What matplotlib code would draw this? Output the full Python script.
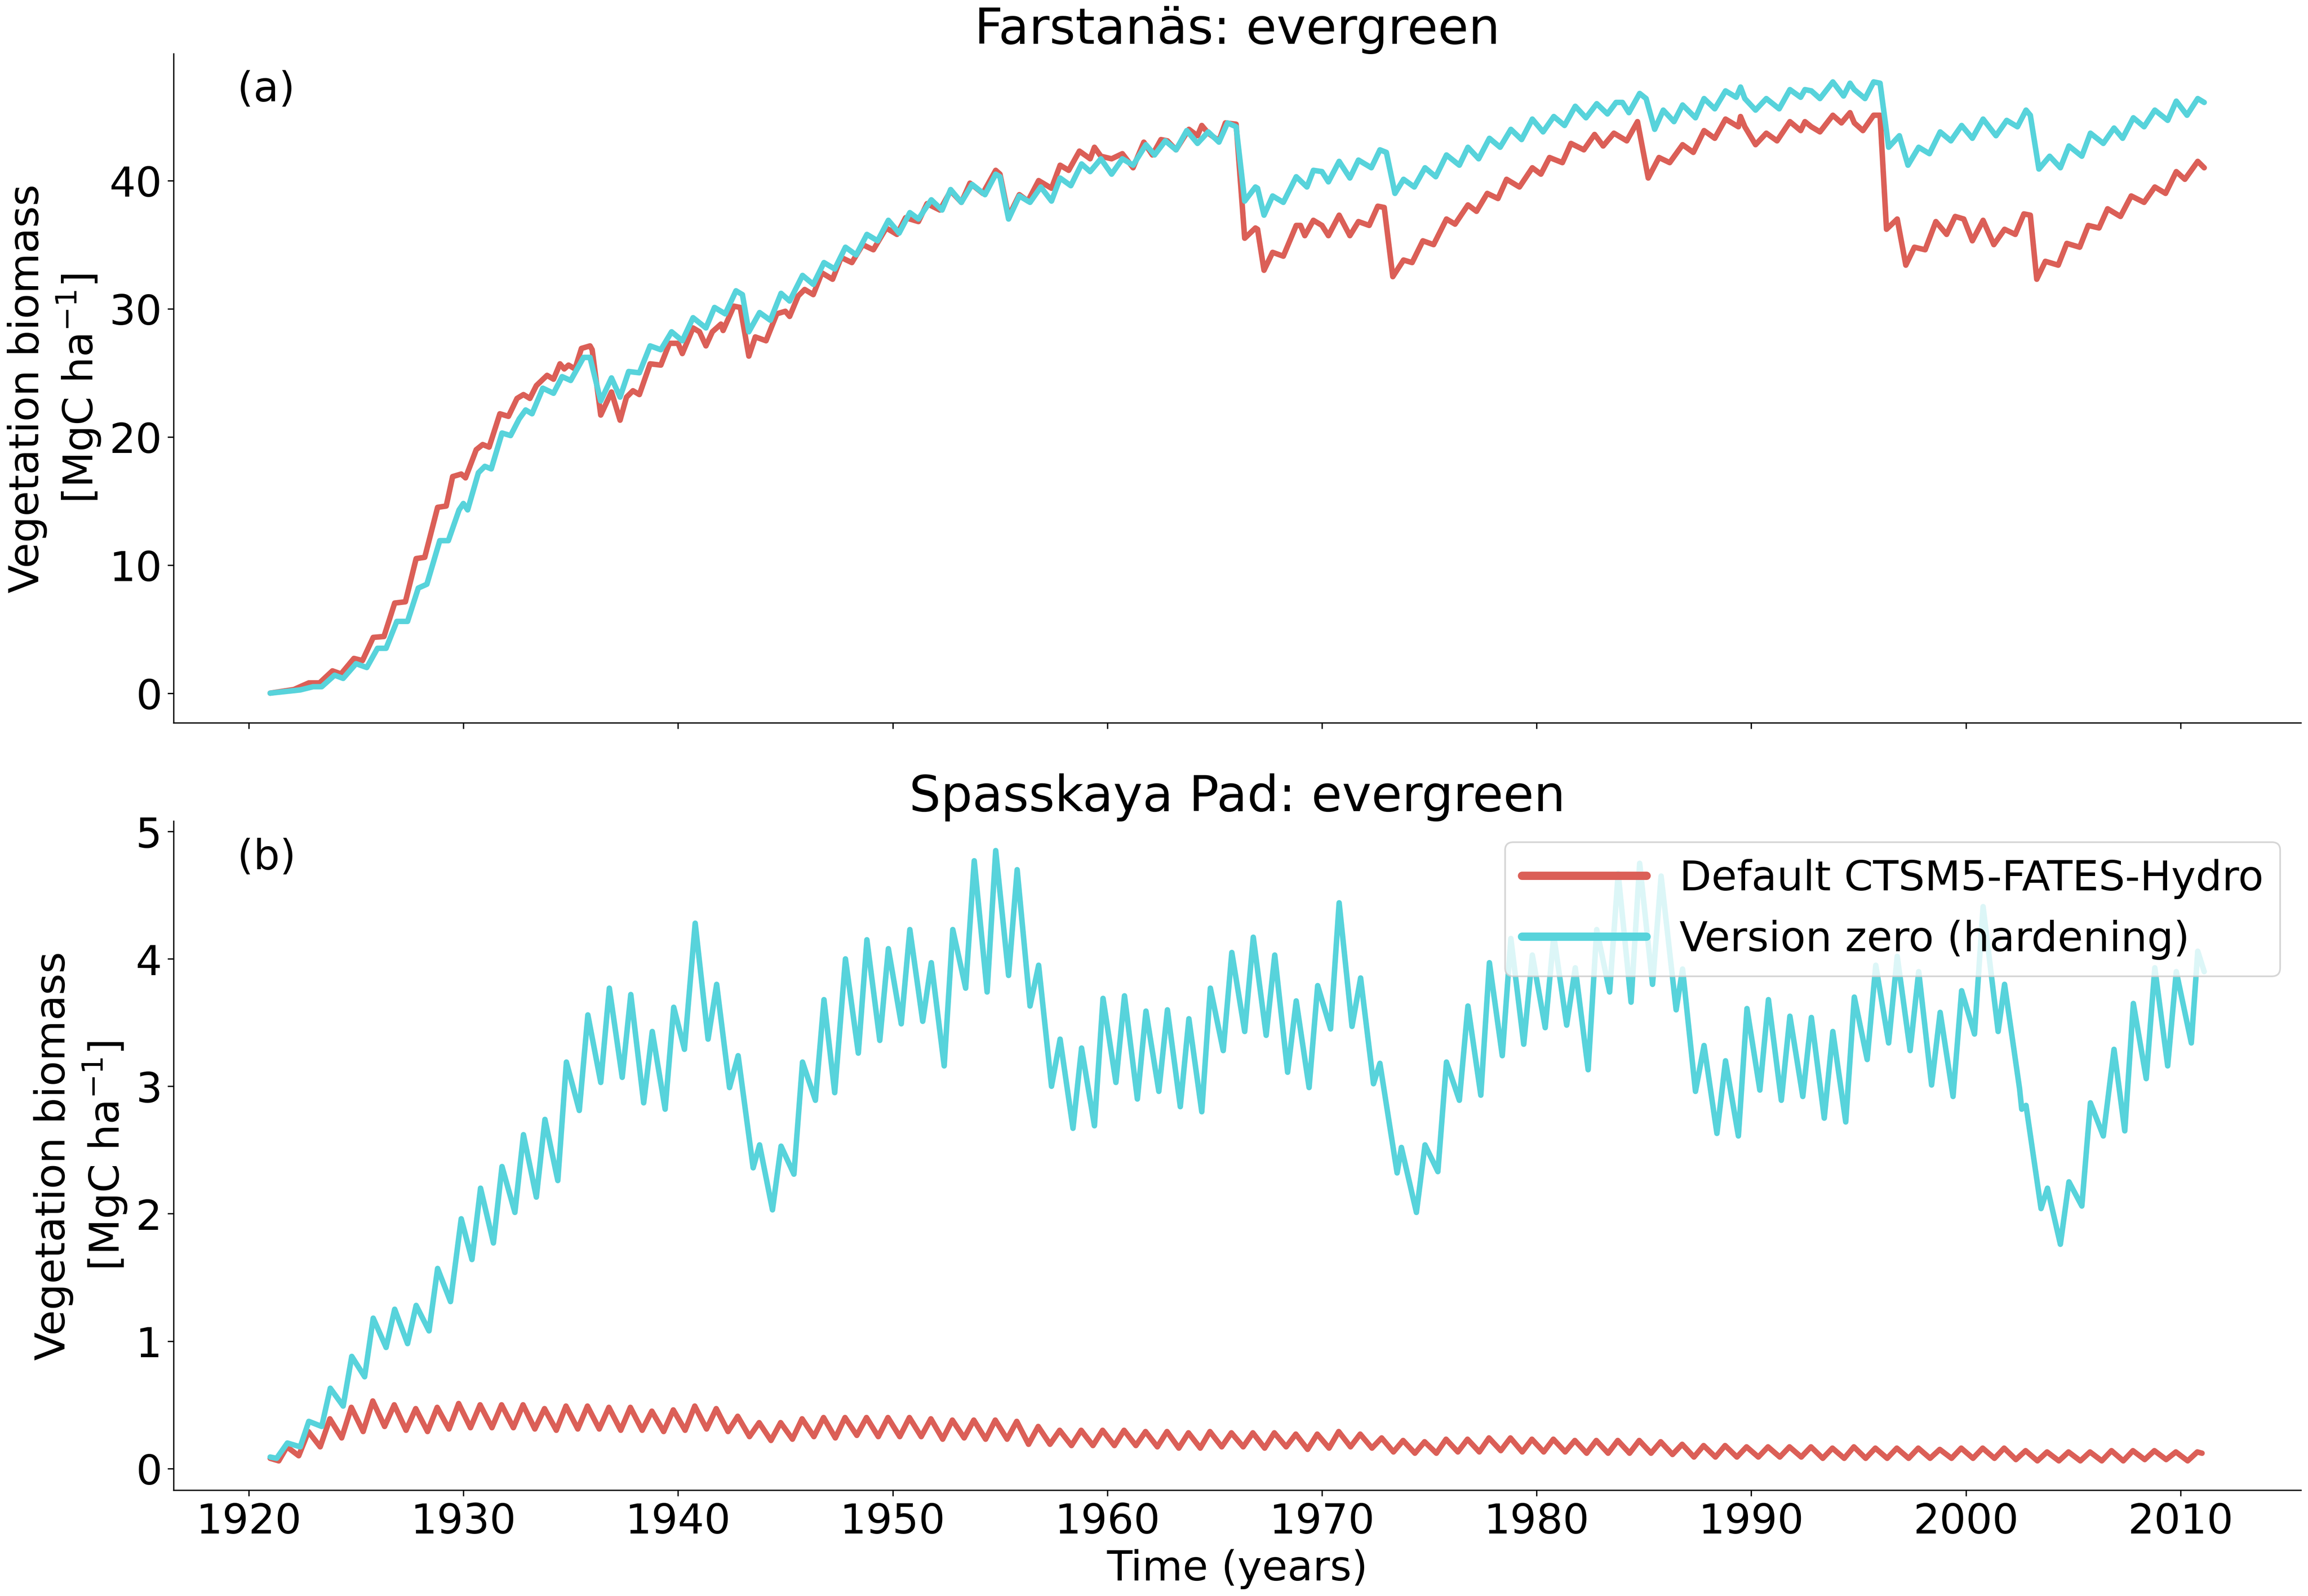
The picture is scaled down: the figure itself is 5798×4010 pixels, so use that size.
import matplotlib
matplotlib.use("Agg")
import matplotlib.pyplot as plt
from matplotlib.ticker import MultipleLocator
import numpy as np

# ---------------- data ----------------
colors = ["#db5f57", "#57d3db"]
labels = ["Default CTSM5-FATES-Hydro", "Version zero (hardening)"]
titles = ["Farstanäs: evergreen", "Spasskaya Pad: evergreen"]
panel_tags = ["(a)", "(b)"]
x_ticks = [1920, 1930, 1940, 1950, 1960, 1970, 1980, 1990, 2000, 2010]
y_ticks_a = [0, 10, 20, 30, 40]
y_ticks_b = [0, 1, 2, 3, 4, 5]

# Panel (a) default (red): (year, MgC/ha)
red_a = [(1921.0, 0.0), (1922.1, 0.28), (1922.8, 0.8), (1923.3, 0.8), (1923.9, 1.74), (1924.3, 1.5),
         (1924.9, 2.71), (1925.3, 2.54), (1925.8, 4.35), (1926.3, 4.42), (1926.8, 7.03), (1927.3, 7.13),
         (1927.8, 10.5), (1928.2, 10.6), (1928.8, 14.5), (1929.2, 14.6), (1929.5, 16.9), (1929.9, 17.1),
         (1930.1, 16.8), (1930.6, 19.0), (1930.9, 19.4), (1931.2, 19.2), (1931.7, 21.8), (1932.1, 21.6),
         (1932.5, 23.0), (1932.8, 23.3), (1933.1, 23.0), (1933.4, 24.0), (1933.9, 24.8), (1934.2, 24.5),
         (1934.5, 25.7), (1934.7, 25.3), (1934.9, 25.6), (1935.2, 25.3), (1935.5, 26.9), (1935.9, 27.1),
         (1936.0, 26.8), (1936.4, 21.7), (1936.9, 23.5), (1937.3, 21.3), (1937.6, 23.1), (1937.9, 23.6),
         (1938.2, 23.3), (1938.7, 25.7), (1939.2, 25.6), (1939.6, 27.3), (1940.0, 27.3), (1940.2, 26.5),
         (1940.7, 28.5), (1941.0, 28.2), (1941.3, 27.1), (1941.6, 28.2), (1942.0, 28.8), (1942.1, 28.3),
         (1942.6, 30.2), (1942.9, 30.1), (1943.3, 26.3), (1943.6, 27.8), (1944.1, 27.5), (1944.6, 29.6),
         (1945.0, 29.8), (1945.2, 29.4), (1945.6, 31.0), (1945.9, 31.5), (1946.3, 31.1), (1946.7, 32.8),
         (1947.2, 32.3), (1947.6, 34.0), (1948.1, 33.6), (1948.6, 35.0), (1949.1, 34.6), (1949.7, 36.3),
         (1950.2, 35.8), (1950.6, 37.1), (1951.2, 36.8), (1951.6, 38.2), (1952.2, 37.7), (1952.7, 39.2),
         (1953.2, 38.3), (1953.6, 39.8), (1954.2, 39.0), (1954.8, 40.8), (1955.0, 40.5), (1955.4, 37.2),
         (1955.9, 38.9), (1956.3, 38.4), (1956.8, 40.0), (1957.4, 39.4), (1957.8, 41.2), (1958.2, 40.8),
         (1958.7, 42.3), (1959.2, 41.7), (1959.4, 42.6), (1959.7, 41.9), (1960.2, 41.7), (1960.7, 42.1),
         (1961.2, 41.0), (1961.7, 43.0), (1962.1, 42.0), (1962.5, 43.2), (1962.8, 43.1), (1963.2, 42.4),
         (1963.8, 44.0), (1964.2, 43.5), (1964.4, 44.3), (1964.7, 43.7), (1965.2, 43.1), (1965.5, 44.5),
         (1966.0, 44.4), (1966.4, 35.5), (1966.9, 36.3), (1967.0, 36.2), (1967.3, 33.0), (1967.7, 34.4),
         (1968.2, 34.1), (1968.8, 36.5), (1969.0, 36.5), (1969.2, 35.7), (1969.6, 36.9), (1970.0, 36.5),
         (1970.3, 35.7), (1970.8, 37.3), (1971.3, 35.7), (1971.7, 36.8), (1972.2, 36.5), (1972.6, 38.0),
         (1972.9, 37.9), (1973.3, 32.5), (1973.8, 33.8), (1974.2, 33.6), (1974.7, 35.3), (1975.2, 35.0),
         (1975.8, 37.0), (1976.2, 36.6), (1976.8, 38.1), (1977.2, 37.6), (1977.7, 39.0), (1978.2, 38.6),
         (1978.6, 40.1), (1979.2, 39.5), (1979.8, 41.0), (1980.2, 40.5), (1980.6, 41.8), (1981.2, 41.4),
         (1981.6, 42.9), (1982.2, 42.4), (1982.7, 43.6), (1983.1, 42.7), (1983.6, 43.7), (1984.2, 43.1),
         (1984.7, 44.6), (1985.2, 40.2), (1985.7, 41.8), (1986.2, 41.4), (1986.8, 42.8), (1987.3, 42.2),
         (1987.8, 43.9), (1988.3, 43.3), (1988.8, 44.8), (1989.4, 44.2), (1989.5, 45.0), (1989.7, 44.2),
         (1990.2, 42.8), (1990.7, 43.7), (1991.2, 43.1), (1991.8, 44.6), (1992.3, 43.9), (1992.5, 44.6),
         (1992.8, 44.2), (1993.2, 43.8), (1993.8, 45.1), (1994.2, 44.5), (1994.6, 45.3), (1994.8, 44.5),
         (1995.2, 43.9), (1995.7, 45.1), (1996.0, 45.1), (1996.3, 36.2), (1996.8, 37.0), (1997.2, 33.4),
         (1997.6, 34.8), (1998.1, 34.6), (1998.6, 36.8), (1999.1, 35.8), (1999.5, 37.2), (1999.9, 37.0),
         (2000.3, 35.3), (2000.8, 36.9), (2001.3, 35.0), (2001.8, 36.2), (2002.3, 35.8), (2002.7, 37.4),
         (2003.0, 37.3), (2003.3, 32.3), (2003.7, 33.7), (2004.3, 33.4), (2004.7, 35.1), (2005.3, 34.8),
         (2005.7, 36.5), (2006.2, 36.3), (2006.6, 37.8), (2007.2, 37.2), (2007.7, 38.8), (2008.3, 38.3),
         (2008.8, 39.5), (2009.3, 39.0), (2009.8, 40.7), (2010.2, 40.1), (2010.8, 41.5), (2011.1, 41.0)]

# Panel (a) version zero (cyan)
cyan_a = [(1921.0, 0.0), (1922.4, 0.25), (1923.0, 0.5), (1923.4, 0.5), (1924.0, 1.4), (1924.4, 1.15),
          (1925.0, 2.3), (1925.5, 2.0), (1926.0, 3.5), (1926.4, 3.5), (1926.9, 5.6), (1927.4, 5.6),
          (1927.9, 8.2), (1928.3, 8.5), (1928.9, 11.9), (1929.3, 11.9), (1929.8, 14.3), (1930.0, 14.8),
          (1930.2, 14.3), (1930.7, 17.2), (1931.0, 17.7), (1931.3, 17.5), (1931.8, 20.3), (1932.2, 20.1),
          (1932.6, 21.4), (1932.9, 22.1), (1933.2, 21.8), (1933.7, 23.8), (1934.2, 23.4), (1934.6, 24.7),
          (1935.0, 24.4), (1935.6, 26.2), (1935.9, 26.2), (1936.4, 22.8), (1936.9, 24.6), (1937.3, 23.1),
          (1937.7, 25.1), (1938.2, 25.0), (1938.7, 27.1), (1939.2, 26.8), (1939.7, 28.2), (1940.2, 27.5),
          (1940.7, 29.3), (1941.3, 28.5), (1941.7, 30.1), (1942.2, 29.6), (1942.7, 31.4), (1943.0, 31.1),
          (1943.3, 28.2), (1943.8, 29.7), (1944.3, 29.1), (1944.8, 31.2), (1945.2, 30.6), (1945.8, 32.6),
          (1946.3, 31.9), (1946.8, 33.6), (1947.3, 33.1), (1947.8, 34.8), (1948.3, 34.2), (1948.8, 35.8),
          (1949.3, 35.3), (1949.8, 36.9), (1950.3, 35.9), (1950.8, 37.5), (1951.2, 37.0), (1951.8, 38.5),
          (1952.3, 37.7), (1952.7, 39.3), (1953.2, 38.3), (1953.7, 39.7), (1954.3, 38.9), (1954.8, 40.5),
          (1955.0, 40.3), (1955.4, 37.0), (1955.9, 38.8), (1956.4, 38.3), (1956.9, 39.5), (1957.4, 38.4),
          (1957.8, 40.2), (1958.3, 39.6), (1958.8, 41.3), (1959.2, 40.7), (1959.7, 41.7), (1960.2, 40.5),
          (1960.7, 41.7), (1961.2, 41.2), (1961.8, 42.8), (1962.2, 42.0), (1962.7, 43.1), (1963.2, 42.4),
          (1963.7, 43.9), (1964.2, 42.9), (1964.7, 43.8), (1965.2, 43.0), (1965.6, 44.5), (1966.0, 44.2),
          (1966.4, 38.4), (1966.9, 39.5), (1967.0, 39.4), (1967.3, 37.3), (1967.7, 38.8), (1968.2, 38.3),
          (1968.8, 40.3), (1969.3, 39.5), (1969.6, 40.8), (1970.0, 40.7), (1970.3, 39.9), (1970.8, 41.5),
          (1971.3, 40.2), (1971.7, 41.6), (1972.3, 41.0), (1972.7, 42.4), (1973.0, 42.2), (1973.4, 39.0),
          (1973.8, 40.1), (1974.3, 39.5), (1974.8, 41.0), (1975.3, 40.3), (1975.8, 42.0), (1976.4, 41.2),
          (1976.8, 42.6), (1977.3, 41.7), (1977.8, 43.3), (1978.3, 42.6), (1978.8, 44.0), (1979.3, 43.2),
          (1979.8, 44.8), (1980.3, 43.8), (1980.8, 45.0), (1981.3, 44.3), (1981.8, 45.8), (1982.3, 44.9),
          (1982.8, 46.0), (1983.3, 45.2), (1983.7, 46.1), (1984.0, 46.1), (1984.3, 45.3), (1984.8, 46.8),
          (1985.1, 46.4), (1985.5, 44.0), (1985.9, 45.5), (1986.4, 44.6), (1986.8, 45.9), (1987.4, 44.9),
          (1987.8, 46.4), (1988.3, 45.6), (1988.8, 47.0), (1989.3, 46.5), (1989.5, 47.3), (1989.7, 46.4),
          (1990.2, 45.5), (1990.7, 46.4), (1991.3, 45.6), (1991.8, 47.1), (1992.3, 46.5), (1992.5, 47.1),
          (1992.8, 47.0), (1993.2, 46.4), (1993.8, 47.7), (1994.3, 46.6), (1994.6, 47.6), (1994.8, 47.1),
          (1995.3, 46.4), (1995.7, 47.7), (1996.0, 47.6), (1996.4, 42.6), (1996.9, 43.5), (1997.3, 41.2),
          (1997.8, 42.6), (1998.3, 42.1), (1998.8, 43.8), (1999.3, 43.1), (1999.8, 44.3), (2000.3, 43.3),
          (2000.8, 44.8), (2001.4, 43.5), (2001.9, 44.7), (2002.4, 44.2), (2002.8, 45.5), (2003.0, 45.1),
          (2003.4, 40.9), (2003.9, 41.9), (2004.4, 41.0), (2004.8, 42.7), (2005.4, 41.9), (2005.8, 43.7),
          (2006.4, 42.9), (2006.9, 44.1), (2007.3, 43.3), (2007.8, 44.9), (2008.3, 44.2), (2008.8, 45.5),
          (2009.4, 44.7), (2009.8, 46.2), (2010.3, 45.1), (2010.8, 46.4), (2011.1, 46.1)]

# Panel (b) version zero (cyan)
cyan_b = [(1921.0, 0.09), (1921.3, 0.08), (1921.8, 0.20), (1922.4, 0.17), (1922.8, 0.37), (1923.4, 0.33),
          (1923.8, 0.63), (1924.4, 0.49), (1924.8, 0.88), (1925.4, 0.72), (1925.8, 1.18), (1926.4, 0.95),
          (1926.8, 1.25), (1927.4, 0.98), (1927.8, 1.28), (1928.4, 1.08), (1928.8, 1.57), (1929.4, 1.31),
          (1929.9, 1.96), (1930.4, 1.64), (1930.8, 2.20), (1931.4, 1.77), (1931.8, 2.37), (1932.4, 2.01),
          (1932.8, 2.62), (1933.4, 2.13), (1933.8, 2.74), (1934.4, 2.26), (1934.8, 3.19), (1935.4, 2.81),
          (1935.8, 3.56), (1936.4, 3.03), (1936.8, 3.77), (1937.4, 3.07), (1937.8, 3.72), (1938.4, 2.87),
          (1938.8, 3.43), (1939.4, 2.82), (1939.8, 3.62), (1940.3, 3.29), (1940.8, 4.28), (1941.4, 3.37),
          (1941.8, 3.80), (1942.4, 2.99), (1942.8, 3.24), (1943.5, 2.36), (1943.8, 2.54), (1944.4, 2.03),
          (1944.8, 2.53), (1945.4, 2.31), (1945.8, 3.19), (1946.4, 2.89), (1946.8, 3.68), (1947.3, 2.95),
          (1947.8, 4.00), (1948.4, 3.26), (1948.8, 4.15), (1949.4, 3.36), (1949.8, 4.08), (1950.4, 3.49),
          (1950.8, 4.23), (1951.4, 3.51), (1951.8, 3.97), (1952.4, 3.16), (1952.8, 4.23), (1953.4, 3.77),
          (1953.8, 4.77), (1954.4, 3.74), (1954.8, 4.85), (1955.4, 3.87), (1955.8, 4.70), (1956.4, 3.63),
          (1956.8, 3.95), (1957.4, 3.00), (1957.8, 3.37), (1958.4, 2.67), (1958.8, 3.30), (1959.4, 2.69),
          (1959.8, 3.69), (1960.4, 3.03), (1960.8, 3.71), (1961.4, 2.90), (1961.8, 3.59), (1962.4, 2.96),
          (1962.8, 3.60), (1963.4, 2.84), (1963.8, 3.53), (1964.4, 2.80), (1964.8, 3.77), (1965.4, 3.28),
          (1965.8, 4.05), (1966.4, 3.43), (1966.8, 4.17), (1967.4, 3.40), (1967.8, 4.03), (1968.4, 3.11),
          (1968.8, 3.67), (1969.4, 2.99), (1969.8, 3.79), (1970.4, 3.45), (1970.8, 4.44), (1971.4, 3.47),
          (1971.8, 3.85), (1972.4, 3.02), (1972.7, 3.18), (1973.5, 2.32), (1973.7, 2.52), (1974.4, 2.01),
          (1974.8, 2.54), (1975.4, 2.33), (1975.8, 3.19), (1976.4, 2.89), (1976.8, 3.63), (1977.4, 2.93),
          (1977.8, 3.97), (1978.4, 3.24), (1978.8, 4.16), (1979.4, 3.33), (1979.8, 4.03), (1980.4, 3.46),
          (1980.8, 4.18), (1981.4, 3.48), (1981.8, 3.93), (1982.4, 3.13), (1982.8, 4.23), (1983.4, 3.74),
          (1983.8, 4.67), (1984.4, 3.66), (1984.8, 4.75), (1985.4, 3.80), (1985.8, 4.65), (1986.5, 3.60),
          (1986.8, 3.92), (1987.4, 2.96), (1987.8, 3.32), (1988.4, 2.63), (1988.8, 3.20), (1989.4, 2.61),
          (1989.8, 3.61), (1990.4, 2.97), (1990.8, 3.68), (1991.4, 2.89), (1991.8, 3.55), (1992.4, 2.92),
          (1992.8, 3.54), (1993.4, 2.75), (1993.8, 3.43), (1994.4, 2.72), (1994.8, 3.70), (1995.4, 3.21),
          (1995.8, 3.95), (1996.4, 3.34), (1996.8, 4.02), (1997.4, 3.28), (1997.8, 3.90), (1998.4, 3.01),
          (1998.8, 3.58), (1999.4, 2.92), (1999.8, 3.75), (2000.4, 3.41), (2000.8, 4.41), (2001.5, 3.43),
          (2001.8, 3.80), (2002.5, 2.98), (2002.6, 2.82), (2002.8, 2.85), (2003.5, 2.04), (2003.8, 2.20),
          (2004.4, 1.76), (2004.8, 2.25), (2005.4, 2.06), (2005.8, 2.87), (2006.4, 2.61), (2006.9, 3.29),
          (2007.4, 2.65), (2007.8, 3.65), (2008.4, 3.06), (2008.8, 3.93), (2009.4, 3.16), (2009.8, 3.90),
          (2010.5, 3.34), (2010.8, 4.06), (2011.1, 3.90)]

# Panel (b) default (red): seasonal peaks (late each year, 1921-2010) and troughs (early each year, 1922-2010)
red_b_start = [(1921.0, 0.08), (1921.4, 0.06)]
red_b_peak_years = list(range(1921, 2011))
red_b_peaks = [0.17, 0.29, 0.39, 0.48, 0.53, 0.50, 0.47, 0.48, 0.51, 0.50,
               0.50, 0.50, 0.47, 0.49, 0.49, 0.48, 0.48, 0.45, 0.46, 0.49,
               0.47, 0.41, 0.36, 0.36, 0.39, 0.40, 0.40, 0.40, 0.40, 0.40,
               0.39, 0.38, 0.38, 0.38, 0.37, 0.33, 0.30, 0.30, 0.30, 0.30,
               0.29, 0.29, 0.28, 0.29, 0.28, 0.28, 0.28, 0.27, 0.27, 0.29,
               0.27, 0.24, 0.22, 0.21, 0.23, 0.23, 0.24, 0.24, 0.23, 0.23,
               0.22, 0.22, 0.22, 0.22, 0.21, 0.19, 0.18, 0.18, 0.17, 0.17,
               0.17, 0.17, 0.16, 0.17, 0.16, 0.16, 0.16, 0.15, 0.16, 0.16,
               0.16, 0.14, 0.13, 0.13, 0.13, 0.14, 0.14, 0.14, 0.13, 0.13]
red_b_troughs = [0.10, 0.17, 0.24, 0.29, 0.33, 0.30, 0.29, 0.31, 0.32, 0.32,
                 0.32, 0.31, 0.30, 0.31, 0.31, 0.30, 0.30, 0.29, 0.30, 0.31,
                 0.29, 0.25, 0.22, 0.23, 0.25, 0.24, 0.26, 0.25, 0.25, 0.25,
                 0.23, 0.24, 0.23, 0.23, 0.19, 0.19, 0.18, 0.18, 0.18, 0.18,
                 0.17, 0.16, 0.16, 0.17, 0.17, 0.16, 0.17, 0.15, 0.16, 0.17,
                 0.16, 0.13, 0.12, 0.12, 0.13, 0.13, 0.14, 0.13, 0.13, 0.13,
                 0.12, 0.12, 0.12, 0.12, 0.11, 0.09, 0.09, 0.09, 0.09, 0.09,
                 0.09, 0.08, 0.08, 0.08, 0.08, 0.08, 0.08, 0.08, 0.08, 0.08,
                 0.07, 0.06, 0.06, 0.06, 0.06, 0.06, 0.07, 0.07, 0.06]
red_b_end = [(2011.0, 0.12)]

# ---------------- build series ----------------
def split(pairs):
    t, v = zip(*pairs)
    return np.array(t), np.array(v)

rb_t = [p[0] for p in red_b_start]
rb_v = [p[1] for p in red_b_start]
for i, y in enumerate(red_b_peak_years):
    rb_t.append(y + 0.78)
    rb_v.append(red_b_peaks[i])
    if i < len(red_b_troughs):
        rb_t.append(y + 1.33)
        rb_v.append(red_b_troughs[i])
rb_t += [p[0] for p in red_b_end]
rb_v += [p[1] for p in red_b_end]

series = [
    [split(red_a), split(cyan_a)],
    [(np.array(rb_t), np.array(rb_v)), split(cyan_b)],
]

# ---------------- plot ----------------
FS = 25
fig, axes = plt.subplots(2, 1, figsize=(5799 / 300, 4011 / 300), dpi=300, sharex=True)
fig.subplots_adjust(left=0.0752, right=0.9967, top=0.9661, bottom=0.0663, hspace=0.1475)

for k, ax in enumerate(axes):
    for j in range(2):
        t, v = series[k][j]
        ax.plot(t, v, color=colors[j], lw=3.3, label=labels[j],
                solid_joinstyle="round", solid_capstyle="round")
    ax.set_title(titles[k], fontsize=30)
    ax.set_ylabel("Vegetation biomass\n[MgC ha$^{-1}$]", fontsize=FS)
    ax.tick_params(labelsize=FS)
    ax.spines["top"].set_visible(False)
    ax.spines["right"].set_visible(False)
    ax.text(0.03, 0.929, panel_tags[k], transform=ax.transAxes, fontsize=FS,
            ha="left", va="baseline")

axes[0].set_ylim(-2.3, 49.9)
axes[0].set_yticks(y_ticks_a)
axes[1].set_ylim(-0.17, 5.08)
axes[1].set_yticks(y_ticks_b)
axes[1].set_xlim(1916.5, 2015.6)
axes[1].set_xticks(x_ticks)
axes[1].set_xlabel("Time (years)", fontsize=FS)
leg = axes[1].legend(loc="upper right", fontsize=FS, handlelength=3)
for line in leg.get_lines():
    line.set_linewidth(5)

fig.savefig("out.png", dpi=300)
